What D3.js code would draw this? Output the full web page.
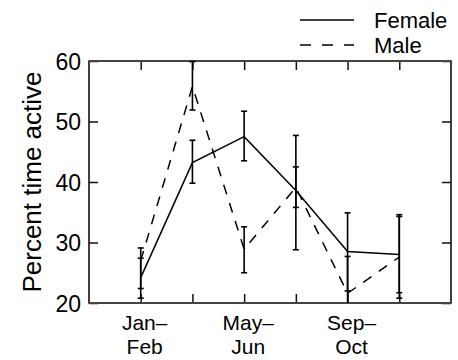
<!DOCTYPE html>
<html><head><meta charset="utf-8">
<script src="https://cdn.jsdelivr.net/npm/d3@7"></script>
<style>body{margin:0;background:#fff}svg{display:block}text{font-family:"Liberation Sans",Arial,sans-serif;fill:#000}</style>
</head><body><svg id="c" width="458" height="360"></svg>
<script>
const periods = ["Jan–Feb","Mar–Apr","May–Jun","Jul–Aug","Sep–Oct","Nov–Dec"];
const tickLabels = [["Jan–","Feb"],null,["May–","Jun"],null,["Sep–","Oct"],null];
const femaleMean = [24.2, 43.2, 47.5, 38.6, 28.5, 28.0];
const femaleLow  = [20.8, 39.8, 43.5, 28.8, 22.0, 21.7];
const femaleHigh = [27.4, 46.9, 51.7, 47.7, 34.9, 34.3];
const maleMean = [27.0, 55.8, 28.9, 39.1, 21.6, 27.6];
const maleLow  = [22.4, 51.9, 25.0, 35.8, 15.6, 20.8];
const maleHigh = [29.1, 59.9, 32.6, 42.5, 27.7, 34.6];
const yTicks = [20, 30, 40, 50, 60];

const L = 89, R = 451, T = 61, B = 303;
const svg = d3.select("#c");
const x = d3.scaleLinear().domain([-1, 6]).range([L, R]);
const y = d3.scaleLinear().domain([20, 60]).range([B, T]);
const idx = d3.range(periods.length);
const tl = 9;

const gl = svg.append("g").attr("transform", `translate(${L},0)`)
  .call(d3.axisLeft(y).tickValues(yTicks).tickSizeInner(-tl).tickSizeOuter(0).tickPadding(8));
const gr = svg.append("g").attr("transform", `translate(${R},0)`)
  .call(d3.axisRight(y).tickValues(yTicks).tickSizeInner(-tl).tickSizeOuter(0).tickFormat(""));
const gb = svg.append("g").attr("transform", `translate(0,${B})`)
  .call(d3.axisBottom(x).tickValues(idx).tickSizeInner(-tl).tickSizeOuter(0).tickFormat(""));
const gt = svg.append("g").attr("transform", `translate(0,${T})`)
  .call(d3.axisTop(x).tickValues(idx).tickSizeInner(-tl).tickSizeOuter(0).tickFormat(""));
[gl, gr, gb, gt].forEach(g => {
  g.select(".domain").remove();
  g.selectAll(".tick line").attr("stroke", "#111").attr("stroke-width", 1.5);
});
gl.selectAll(".tick text").attr("font-size", 23).attr("dy", "0.36em")
  .style("font-family", '"Liberation Sans",Arial,sans-serif');

svg.append("rect").attr("x", L).attr("y", T).attr("width", R - L).attr("height", B - T)
  .attr("fill", "none").attr("stroke", "#111").attr("stroke-width", 1.6);
svg.append("line").attr("x1", L).attr("x2", R).attr("y1", B).attr("y2", B)
  .attr("stroke", "#444").attr("stroke-width", 2.2);
svg.append("line").attr("x1", L).attr("x2", R).attr("y1", T).attr("y2", T)
  .attr("stroke", "#444").attr("stroke-width", 2);

idx.forEach(i => {
  if (!tickLabels[i]) return;
  const t = svg.append("text").attr("text-anchor", "middle").attr("font-size", 21);
  t.append("tspan").attr("x", x(i) + 4).attr("y", 330).text(tickLabels[i][0]);
  t.append("tspan").attr("x", x(i) + 4).attr("y", 354).text(tickLabels[i][1]);
});

svg.append("text").attr("transform", `translate(41,${(T + B) / 2}) rotate(-90)`)
  .attr("text-anchor", "middle").attr("font-size", 26).text("Percent time active");

const plot = svg.append("g");
const cap = 3;
function errorBars(mean, low, high) {
  idx.forEach(i => {
    const lo = Math.max(low[i], 20), hi = Math.min(high[i], 60);
    plot.append("line").attr("x1", x(i)).attr("x2", x(i)).attr("y1", y(lo)).attr("y2", y(hi))
      .attr("stroke", "#000").attr("stroke-width", 1.6);
    if (high[i] <= 60) plot.append("line").attr("x1", x(i) - cap).attr("x2", x(i) + cap)
      .attr("y1", y(high[i])).attr("y2", y(high[i])).attr("stroke", "#000").attr("stroke-width", 1.6);
    if (low[i] >= 20) plot.append("line").attr("x1", x(i) - cap).attr("x2", x(i) + cap)
      .attr("y1", y(low[i])).attr("y2", y(low[i])).attr("stroke", "#000").attr("stroke-width", 1.6);
  });
}
errorBars(femaleMean, femaleLow, femaleHigh);
errorBars(maleMean, maleLow, maleHigh);

const line = d3.line().x((d, i) => x(i)).y(d => y(d));
plot.append("path").datum(femaleMean).attr("d", line).attr("fill", "none")
  .attr("stroke", "#000").attr("stroke-width", 1.5);
plot.append("path").datum(maleMean).attr("d", line).attr("fill", "none")
  .attr("stroke", "#000").attr("stroke-width", 1.5).attr("stroke-dasharray", "10,9");

const legend = [{name: "Female", dash: null, y: 20}, {name: "Male", dash: "11,11", y: 45}];
legend.forEach(d => {
  svg.append("line").attr("x1", 300).attr("x2", 354).attr("y1", d.y).attr("y2", d.y)
    .attr("stroke", "#000").attr("stroke-width", 1.5).attr("stroke-dasharray", d.dash);
  svg.append("text").attr("x", 374).attr("y", d.y + 8).attr("font-size", 22).text(d.name);
});
</script></body></html>
